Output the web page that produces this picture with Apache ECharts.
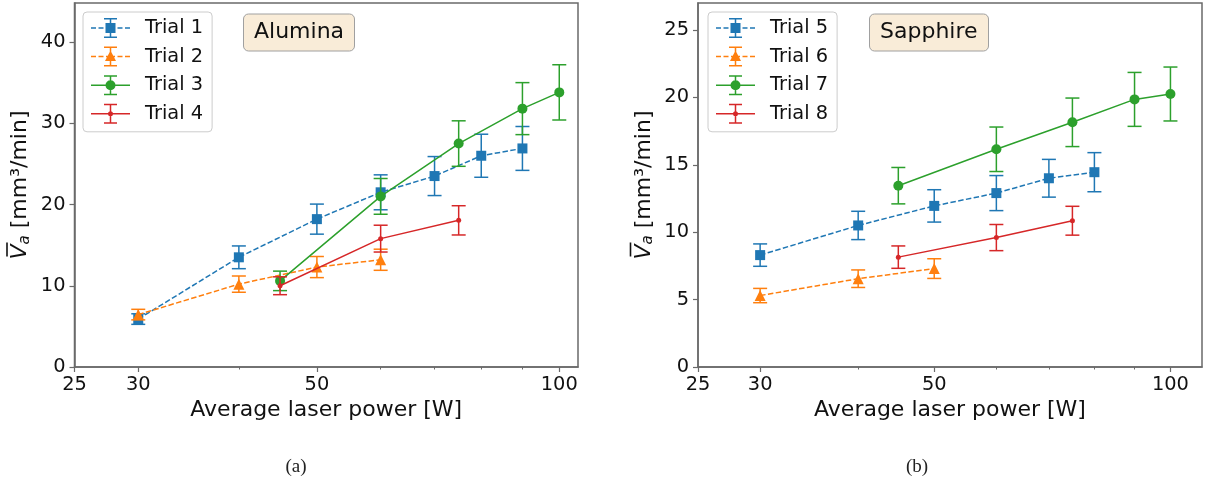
<!DOCTYPE html>
<html>
<head>
<meta charset="utf-8">
<script src="https://cdn.jsdelivr.net/npm/echarts@6/dist/echarts.min.js"></script>
<style>
  html, body { margin: 0; padding: 0; background: #ffffff; }
  #chart { width: 1208px; height: 485px; }
</style>
</head>
<body>
<div id="chart"></div>
<script>
// ---- Alumina: average laser power [W], mean ablation rate [mm^3/min], error ----
const trial1Power = [30, 40, 50, 60, 70, 80, 90];
const trial1Rate  = [5.9, 13.5, 18.2, 21.5, 23.5, 26.0, 26.9];
const trial1Err   = [0.65, 1.4, 1.85, 2.15, 2.4, 2.65, 2.7];

const trial2Power = [30, 40, 50, 60];
const trial2Rate  = [6.45, 10.2, 12.3, 13.2];
const trial2Err   = [0.65, 1.0, 1.3, 1.3];

const trial3Power = [45, 60, 75, 90, 100];
const trial3Rate  = [10.6, 21.0, 27.5, 31.8, 33.8];
const trial3Err   = [1.2, 2.2, 2.8, 3.2, 3.4];

const trial4Power = [45, 60, 75];
const trial4Rate  = [10.0, 15.8, 18.05];
const trial4Err   = [1.1, 1.65, 1.8];

// ---- Sapphire ----
const trial5Power = [30, 40, 50, 60, 70, 80];
const trial5Rate  = [8.3, 10.5, 11.95, 12.9, 14.0, 14.45];
const trial5Err   = [0.83, 1.05, 1.2, 1.3, 1.4, 1.45];

const trial6Power = [30, 40, 50];
const trial6Rate  = [5.3, 6.55, 7.3];
const trial6Err   = [0.53, 0.65, 0.73];

const trial7Power = [45, 60, 75, 90, 100];
const trial7Rate  = [13.45, 16.15, 18.15, 19.85, 20.25];
const trial7Err   = [1.35, 1.65, 1.8, 2.0, 2.0];

const trial8Power = [45, 60, 75];
const trial8Rate  = [8.15, 9.6, 10.85];
const trial8Err   = [0.83, 0.97, 1.07];

// ---- axis ticks ----
const powerTickLabels = [25, 30, 50, 100];
const powerMinorTicks = [40, 60, 70, 80, 90];
const aluminaRateTicks = [0, 10, 20, 30, 40];
const sapphireRateTicks = [0, 5, 10, 15, 20, 25];

const FONT = 'DejaVu Sans';
const AXIS_COLOR = '#6a6a6a';
const C_BLUE = '#1f77b4', C_ORANGE = '#ff7f0e', C_GREEN = '#2ca02c', C_RED = '#d62728';
const DASH = [5.5, 2.4];

// Vertical error bar with caps, placed through the axis coordinate system
function errorBarRenderer(color) {
  return function (params, api) {
    const x = api.value(0);
    const top = api.coord([x, api.value(2)]);
    const bot = api.coord([x, api.value(1)]);
    const cap = 7;
    const style = { stroke: color, lineWidth: 1.5 };
    return {
      type: 'group',
      children: [
        { type: 'line', shape: { x1: top[0], y1: top[1], x2: bot[0], y2: bot[1] }, style },
        { type: 'line', shape: { x1: top[0] - cap, y1: top[1], x2: top[0] + cap, y2: top[1] }, style },
        { type: 'line', shape: { x1: bot[0] - cap, y1: bot[1], x2: bot[0] + cap, y2: bot[1] }, style }
      ]
    };
  };
}

// Legend glyph: connecting line (solid or dashed), error bar with caps, and the marker
function legendIcon(marker, dashed) {
  const rect = (x, y, w, h) => `M${x} ${y}h${w}v${h}h${-w}Z`;
  const parts = [];
  if (dashed) {
    [[0, 5], [7.5, 5], [15, 9], [26.5, 5], [34, 5]].forEach(([x, w]) => parts.push(rect(x, 9.25, w, 1.5)));
  } else {
    parts.push(rect(0, 9.25, 39, 1.5));
  }
  parts.push(rect(18.75, 0, 1.5, 20));
  parts.push(rect(13, 0, 13, 1.5));
  parts.push(rect(13, 18.5, 13, 1.5));
  if (marker === 'square') parts.push(rect(14.5, 5, 10, 10));
  if (marker === 'triangle') parts.push('M19.5 4L25 14.5L14 14.5Z');
  if (marker === 'circle') parts.push('M14.5 10A5 5 0 1 1 24.5 10A5 5 0 1 1 14.5 10Z');
  if (marker === 'dot') parts.push('M17 10A2.5 2.5 0 1 1 22 10A2.5 2.5 0 1 1 17 10Z');
  return 'path://' + parts.join('');
}

function trialSeries(name, xs, ys, errs, panel, color, symbol, size, dashed, z) {
  const line = {
    type: 'line', name, z,
    xAxisIndex: panel * 2, yAxisIndex: panel,
    data: xs.map((x, i) => [x, ys[i]]),
    symbol, symbolSize: size, showSymbol: true,
    lineStyle: { color, width: 1.5, type: dashed ? DASH : 'solid' },
    itemStyle: { color, opacity: 1 },
    emphasis: { disabled: true },
    animation: false
  };
  const bars = {
    type: 'custom', name, z,
    xAxisIndex: panel * 2, yAxisIndex: panel,
    data: xs.map((x, i) => [x, ys[i] - errs[i], ys[i] + errs[i]]),
    encode: { x: 0, y: [1, 2] },
    renderItem: errorBarRenderer(color),
    animation: false
  };
  return [line, bars];
}

const lineSeries = [];
const barSeries = [];
function addTrial(...args) {
  const [l, b] = trialSeries(...args);
  lineSeries.push(l);
  barSeries.push(b);
}
addTrial('Trial 1', trial1Power, trial1Rate, trial1Err, 0, C_BLUE, 'rect', 10, true, 2);
addTrial('Trial 2', trial2Power, trial2Rate, trial2Err, 0, C_ORANGE, 'triangle', 11, true, 3);
addTrial('Trial 3', trial3Power, trial3Rate, trial3Err, 0, C_GREEN, 'circle', 10, false, 4);
addTrial('Trial 4', trial4Power, trial4Rate, trial4Err, 0, C_RED, 'circle', 5, false, 5);
addTrial('Trial 5', trial5Power, trial5Rate, trial5Err, 1, C_BLUE, 'rect', 10, true, 2);
addTrial('Trial 6', trial6Power, trial6Rate, trial6Err, 1, C_ORANGE, 'triangle', 11, true, 3);
addTrial('Trial 7', trial7Power, trial7Rate, trial7Err, 1, C_GREEN, 'circle', 10, false, 4);
addTrial('Trial 8', trial8Power, trial8Rate, trial8Err, 1, C_RED, 'circle', 5, false, 5);

function powerAxes(gridIndex, max) {
  const main = {
    type: 'log', logBase: 10, gridIndex, min: 25, max, position: 'bottom',
    name: 'Average laser power [W]', nameLocation: 'middle', nameGap: 29,
    nameTextStyle: { fontFamily: FONT, fontSize: 22, color: '#111' },
    axisLine: { show: true, lineStyle: { color: AXIS_COLOR, width: 1.5 } },
    axisTick: { show: true, length: 5, customValues: powerTickLabels, lineStyle: { color: AXIS_COLOR, width: 1.2 } },
    axisLabel: { show: true, customValues: powerTickLabels, margin: 8, fontFamily: FONT, fontSize: 19.4, color: '#111',
                 showMinLabel: true, showMaxLabel: true, formatter: v => String(Math.round(v)) },
    splitLine: { show: false }, minorTick: { show: false }
  };
  const minor = {
    type: 'log', logBase: 10, gridIndex, min: 25, max, position: 'bottom',
    axisLine: { show: false },
    axisTick: { show: true, length: 2.5, customValues: powerMinorTicks, lineStyle: { color: AXIS_COLOR, width: 1 } },
    axisLabel: { show: false },
    splitLine: { show: false }
  };
  return [main, minor];
}

function rateAxis(gridIndex, max, ticks) {
  return {
    type: 'value', gridIndex, min: 0, max,
    // overline drawn as a thin bar on its own line above the italic V
    name: '{gap|}{bar|}\n{v|V}{sub|a}{t| [mm³/min]}', nameLocation: 'middle', nameGap: 42,
    nameTextStyle: {
      fontFamily: FONT, color: '#111',
      rich: {
        gap: { width: 3, height: 1.6, lineHeight: 3, align: 'left' },
        bar: { width: 14, height: 1.6, lineHeight: 3, align: 'left', backgroundColor: '#111' },
        v: { fontFamily: FONT, fontSize: 22, fontStyle: 'italic', lineHeight: 24, color: '#111' },
        sub: { fontFamily: FONT, fontSize: 15, fontStyle: 'italic', lineHeight: 15, verticalAlign: 'bottom', color: '#111' },
        t: { fontFamily: FONT, fontSize: 22, lineHeight: 24, color: '#111' }
      }
    },
    axisLine: { show: true, lineStyle: { color: AXIS_COLOR, width: 1.5 } },
    axisTick: { show: true, length: 5, customValues: ticks, lineStyle: { color: AXIS_COLOR, width: 1.2 } },
    axisLabel: { customValues: ticks, margin: 9, fontFamily: FONT, fontSize: 19.4, color: '#111' },
    splitLine: { show: false }
  };
}

function legendFor(items, left) {
  return {
    data: items.map(([name, marker, dashed]) => ({ name, icon: legendIcon(marker, dashed) })),
    orient: 'vertical', left, top: 12,
    itemWidth: 39, itemHeight: 20, itemGap: 8.6,
    padding: [6, 9, 8, 8],
    backgroundColor: 'rgba(255,255,255,0.8)', borderColor: '#cccccc', borderWidth: 1, borderRadius: 4,
    itemStyle: { borderWidth: 0 },
    textStyle: { fontFamily: FONT, fontSize: 19.4, lineHeight: 19, color: '#111', padding: [0, 0, 0, 10] },
    selectedMode: false
  };
}

function boxTitle(text, left) {
  return {
    text, left, top: 14, padding: [7.5, 11],
    backgroundColor: '#f9ecd8', borderColor: '#a0a0a0', borderWidth: 1, borderRadius: 5,
    textStyle: { fontFamily: FONT, fontSize: 22, fontWeight: 'normal', color: '#111', lineHeight: 22 }
  };
}

function caption(text, left) {
  return {
    text, left, top: 458, padding: 0,
    textStyle: { fontFamily: 'Liberation Serif', fontSize: 19, fontWeight: 'normal', color: '#222' }
  };
}

const chart = echarts.init(document.getElementById('chart'), null, { renderer: 'canvas' });
chart.setOption({
  animation: false,
  backgroundColor: '#ffffff',
  title: [
    boxTitle('Alumina', 243), boxTitle('Sapphire', 869),
    caption('(a)', 285.5), caption('(b)', 906)
  ],
  legend: [
    legendFor([['Trial 1', 'square', true], ['Trial 2', 'triangle', true], ['Trial 3', 'circle', false], ['Trial 4', 'dot', false]], 83),
    legendFor([['Trial 5', 'square', true], ['Trial 6', 'triangle', true], ['Trial 7', 'circle', false], ['Trial 8', 'dot', false]], 708)
  ],
  grid: [
    { left: 74, top: 3, width: 504, height: 364, show: true, borderColor: AXIS_COLOR, borderWidth: 1.5, containLabel: false },
    { left: 698, top: 3, width: 504, height: 364, show: true, borderColor: AXIS_COLOR, borderWidth: 1.5, containLabel: false }
  ],
  xAxis: [...powerAxes(0, 105.5), ...powerAxes(1, 109.7)],
  yAxis: [rateAxis(0, 44.8, aluminaRateTicks), rateAxis(1, 27, sapphireRateTicks)],
  series: [...lineSeries, ...barSeries]
});
</script>
</body>
</html>
